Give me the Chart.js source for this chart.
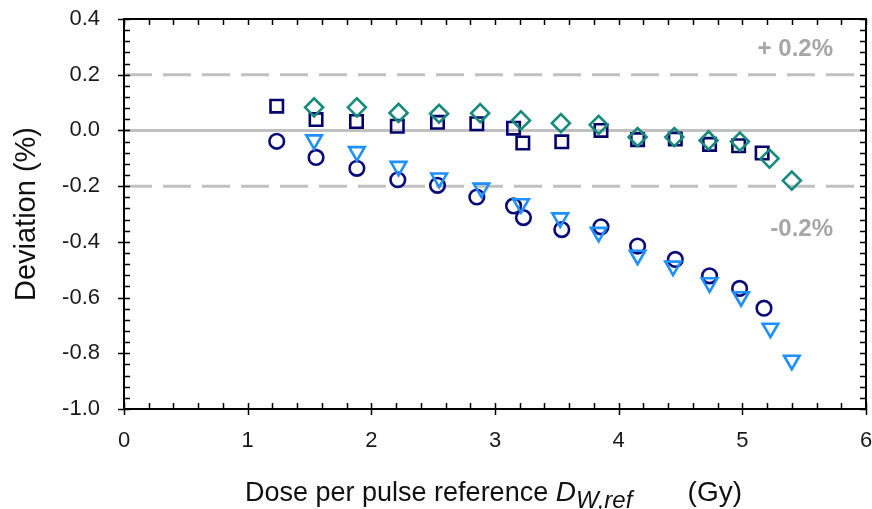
<!DOCTYPE html>
<html>
<head>
<meta charset="utf-8">
<script src="https://cdn.jsdelivr.net/npm/chart.js@4"></script>
<style>
  body { margin: 0; background: #fff; }
  canvas { display: block; }
</style>
</head>
<body>
<canvas id="devChart" width="872" height="509"></canvas>
<script>
// values (x = dose per pulse in Gy, y = deviation in %)
const squareX = [1.235, 1.553, 1.88, 2.21, 2.535, 2.853, 3.15, 3.225, 3.54, 3.857, 4.153, 4.458, 4.735, 4.97, 5.16];
const squareY = [0.087, 0.039, 0.032, 0.015, 0.029, 0.024, 0.008, -0.045, -0.041, 0.0, -0.033, -0.031, -0.05, -0.055, -0.081];

const diamondX = [1.537, 1.883, 2.22, 2.548, 2.88, 3.21, 3.533, 3.838, 4.153, 4.45, 4.727, 4.98, 5.22, 5.40];
const diamondY = [0.083, 0.083, 0.063, 0.060, 0.062, 0.036, 0.026, 0.020, -0.024, -0.024, -0.036, -0.040, -0.101, -0.180];

const circleX = [1.235, 1.553, 1.883, 2.214, 2.535, 2.853, 3.15, 3.23, 3.54, 3.857, 4.153, 4.458, 4.735, 4.978, 5.175];
const circleY = [-0.039, -0.097, -0.136, -0.177, -0.197, -0.239, -0.271, -0.313, -0.356, -0.346, -0.415, -0.463, -0.522, -0.567, -0.638];

const triangleX = [1.537, 1.883, 2.22, 2.548, 2.89, 3.21, 3.527, 3.838, 4.153, 4.44, 4.735, 4.99, 5.227, 5.40];
const triangleY = [-0.034, -0.076, -0.129, -0.171, -0.207, -0.263, -0.314, -0.366, -0.448, -0.487, -0.547, -0.597, -0.710, -0.825];

// reference band at 0 and +/- 0.2 %
const bandLimits = [0.2, -0.2];
const bandLabels = ["+ 0.2%", "-0.2%"];

const xTicks = [0, 1, 2, 3, 4, 5, 6];
const yTicks = [0.4, 0.2, 0.0, -0.2, -0.4, -0.6, -0.8, -1.0];
const yTickLabels = ["0.4", "0.2", "0.0", "-0.2", "-0.4", "-0.6", "-0.8", "-1.0"];

const FONT = "'Liberation Sans', Arial, sans-serif";

function toPoints(xs, ys) {
  return xs.map((x, i) => ({ x: x, y: ys[i] }));
}

function markerSet(xs, ys, style, color, radius, rotation) {
  return {
    data: toPoints(xs, ys),
    showLine: false,
    pointStyle: style,
    pointRadius: radius,
    pointHoverRadius: radius,
    pointRotation: rotation || 0,
    pointBorderWidth: 2.6,
    borderColor: color,
    pointBorderColor: color,
    backgroundColor: "rgba(0,0,0,0)",
    pointBackgroundColor: "rgba(0,0,0,0)",
  };
}

function refLine(y, dashed) {
  return {
    data: [{ x: 0, y: y }, { x: 6, y: y }],
    showLine: true,
    borderColor: "#c0c0c0",
    borderWidth: 3,
    borderDash: dashed ? [28, 11] : [],
    pointRadius: 0,
    pointHoverRadius: 0,
  };
}

// no extra room for overflowing edge labels, the frame is fixed
function noEdgePadding(scale) {
  scale.paddingTop = 0;
  scale.paddingBottom = 0;
  scale.paddingLeft = 0;
  scale.paddingRight = 0;
}

// frame with inward minor ticks, and the titles / band labels
const framePlugin = {
  id: "frame",
  afterDatasetsDraw(chart) {
    const ctx = chart.ctx;
    const a = chart.chartArea;
    const xs = chart.scales.x;
    const ys = chart.scales.y;
    ctx.save();
    ctx.strokeStyle = "#000";
    ctx.lineWidth = 2;
    ctx.strokeRect(a.left, a.top, a.right - a.left, a.bottom - a.top);

    ctx.lineWidth = 1.5;
    ctx.beginPath();
    for (let i = 0; i <= 30; i++) {
      const px = Math.round(xs.getPixelForValue(i * 0.2)) + 0.5;
      const major = i % 5 === 0;
      ctx.moveTo(px, a.bottom + (major ? 6 : 0));
      ctx.lineTo(px, a.bottom - 6);
      ctx.moveTo(px, a.top);
      ctx.lineTo(px, a.top + 6);
    }
    for (let i = 0; i <= 35; i++) {
      const py = Math.round(ys.getPixelForValue(-1 + i * 0.04)) + 0.5;
      const major = i % 5 === 0;
      ctx.moveTo(a.left - (major ? 6 : 0), py);
      ctx.lineTo(a.left + 6, py);
      ctx.moveTo(a.right, py);
      ctx.lineTo(a.right - 6, py);
    }
    ctx.stroke();

    // band labels
    ctx.fillStyle = "#a6a6a6";
    ctx.font = "bold 24px " + FONT;
    ctx.textAlign = "right";
    ctx.textBaseline = "alphabetic";
    ctx.fillText(bandLabels[0], 833, ys.getPixelForValue(bandLimits[0]) - 19);
    ctx.fillText(bandLabels[1], 833, ys.getPixelForValue(bandLimits[1]) + 50);

    // y title
    ctx.fillStyle = "#111";
    ctx.save();
    ctx.translate(27, (a.top + a.bottom) / 2);
    ctx.rotate(-Math.PI / 2);
    ctx.textAlign = "center";
    ctx.textBaseline = "middle";
    ctx.font = "29px " + FONT;
    ctx.fillText("Deviation (%)", 0, 0);
    ctx.restore();

    // x title with italic symbol and subscript, unit pinned at the right end
    const base = 501;
    ctx.textAlign = "left";
    ctx.textBaseline = "alphabetic";
    let tx = 245;
    ctx.font = "27px " + FONT;
    ctx.fillText("Dose per pulse reference ", tx, base);
    tx += ctx.measureText("Dose per pulse reference ").width;
    ctx.font = "italic 28px " + FONT;
    ctx.fillText("D", tx, base);
    tx += ctx.measureText("D").width;
    ctx.font = "italic 24px " + FONT;
    ctx.fillText("W,ref", tx, base + 7);
    ctx.font = "28px " + FONT;
    ctx.textAlign = "right";
    ctx.fillText("(Gy)", 742, base);
    ctx.restore();
  },
};

const ctx = document.getElementById("devChart").getContext("2d");

new Chart(ctx, {
  type: "scatter",
  data: {
    datasets: [
      markerSet(triangleX, triangleY, "triangle", "#1e90ff", 9, 180),
      markerSet(circleX, circleY, "circle", "#0a0a78", 7.3),
      markerSet(diamondX, diamondY, "rectRot", "#168a7c", 9),
      markerSet(squareX, squareY, "rect", "#04046a", 8.8),
      refLine(0, false),
      refLine(bandLimits[0], true),
      refLine(bandLimits[1], true),
    ],
  },
  options: {
    responsive: false,
    animation: false,
    layout: { autoPadding: false, padding: { left: 0, top: 19, right: 6, bottom: 0 } },
    plugins: {
      legend: { display: false },
      tooltip: { enabled: false },
    },
    scales: {
      x: {
        type: "linear",
        min: 0,
        max: 6,
        afterBuildTicks: (scale) => {
          scale.ticks = xTicks.map((v) => ({ value: v }));
        },
        afterFit: (scale) => {
          scale.height = 100;
          noEdgePadding(scale);
        },
        grid: { display: false, drawTicks: false },
        border: { display: false },
        ticks: {
          padding: 19,
          color: "#1a1a1a",
          font: { size: 22, family: FONT },
          callback: (v) => String(v),
        },
      },
      y: {
        type: "linear",
        min: -1,
        max: 0.4,
        afterBuildTicks: (scale) => {
          scale.ticks = yTicks.map((v) => ({ value: v }));
        },
        afterFit: (scale) => {
          scale.width = 124;
          noEdgePadding(scale);
        },
        grid: { display: false, drawTicks: false },
        border: { display: false },
        ticks: {
          padding: 24,
          color: "#1a1a1a",
          font: { size: 22, family: FONT },
          callback: (v, i) => yTickLabels[i],
        },
      },
    },
  },
  plugins: [framePlugin],
});
</script>
</body>
</html>
